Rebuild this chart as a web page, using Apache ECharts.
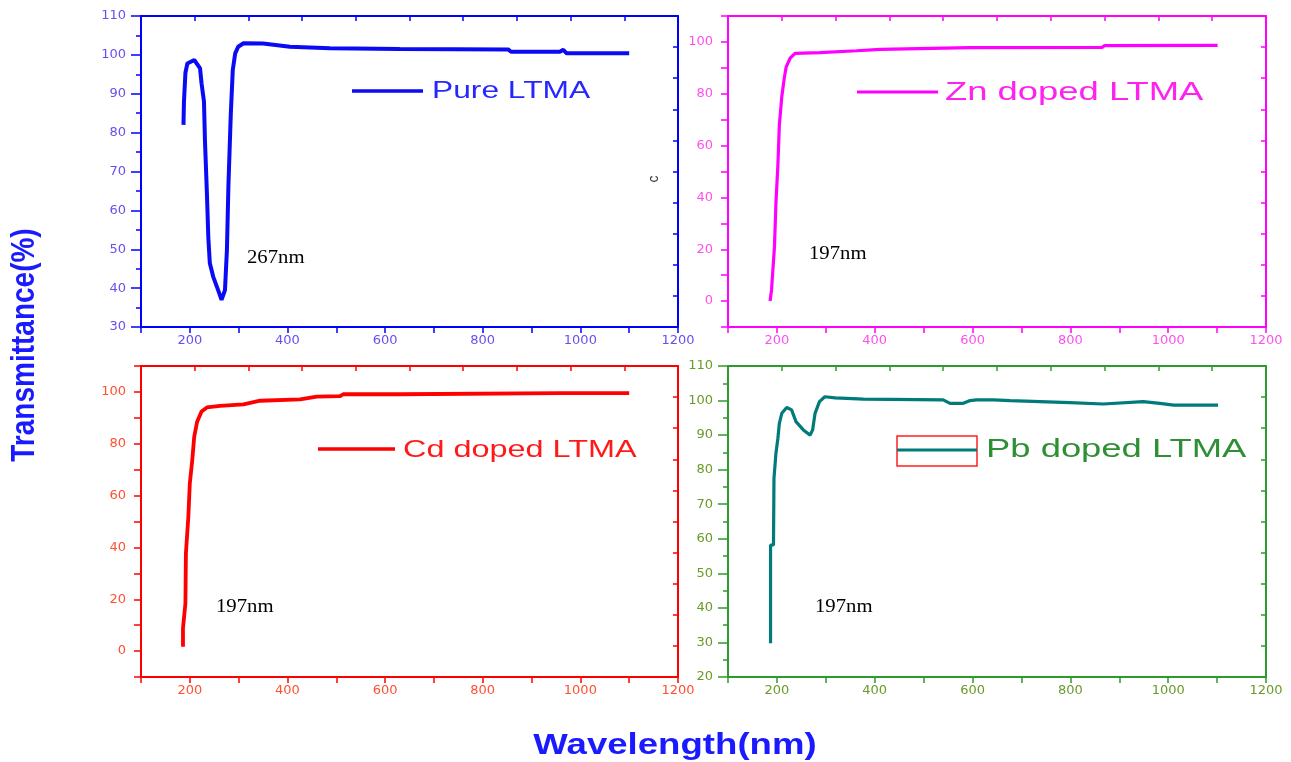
<!DOCTYPE html>
<html>
<head>
<meta charset="utf-8">
<script src="https://cdn.jsdelivr.net/npm/echarts@6/dist/echarts.min.js"></script>
<style>
html,body{margin:0;padding:0;background:#fff;}
#chart{width:1291px;height:762px;}
</style>
</head>
<body>
<div id="chart"></div>
<script>
// ---- data ----
const pureX = [187,188,191,195,209,221,224,229,231,235,238,241,248,258,265,272,276,279,284,288,293,299,310,350,405,487,630,852,858,958,965,972,1100];
const pureY = [82,88,95.4,97.8,98.7,96.5,92.7,88,78,64.4,52.8,46.4,42.9,39.5,37,39.5,49.8,66,85,96.1,100.4,102.1,103,102.9,102.1,101.7,101.5,101.4,100.8,100.8,101.3,100.4,100.4];

const znX = [186,189,195,198,202,205,210,215,219,227,237,288,363,411,595,865,870,1101];
const znY = [0,4.3,21,37.7,52.5,68,78.9,86,90.4,93.7,95.6,95.9,96.6,97.1,97.8,97.9,98.6,98.7];

const cdX = [186,186,191,192,197,200,205,209,215,224,235,262,310,344,426,460,508,514,630,960,1100];
const cdY = [1.7,8.8,18.4,37.7,51.9,64.7,73.7,82.7,88.5,92.4,94,94.6,95.2,96.6,97.1,98.2,98.4,99.1,99.1,99.5,99.5];

const pbX = [187,187,193,194,198,202,205,210,220,230,239,254,268,273,278,287,298,319,377,540,554,574,581,595,608,643,677,799,867,949,983,1011,1102];
const pbY = [29.8,58.2,58.2,77.5,84.7,89.1,93.4,96.3,98,97.3,93.9,91.5,90,91.5,96.3,99.7,101.1,100.8,100.4,100.2,99.2,99.2,99.2,100,100.2,100.2,100,99.4,99,99.7,99.2,98.7,98.7];

const seriesNames = ['Pure LTMA','Zn doped LTMA','Cd doped LTMA','Pb doped LTMA'];
const peakLabels = ['267nm','197nm','197nm','197nm'];
const xTickValues = [200,400,600,800,1000,1200];
const yRanges = [[30,110],[-10,110],[-10,110],[20,110]];
const xTitle = 'Wavelength(nm)';
const yTitle = 'Transmittance(%)';

// ---- layout / style ----
const panels = [
  {xs:pureX, ys:pureY, grid:{left:141,top:16,width:537,height:311}, axis:'#0000ff', lab:'#6650f0', line:'#0a0af5', lw:4,   fine:true, legText:'#2626ff'},
  {xs:znX,   ys:znY,   grid:{left:728,top:16,width:538,height:311}, axis:'#ff00ff', lab:'#ff50ee', line:'#ff00ff', lw:3.2, fine:false, legText:'#ff22ee'},
  {xs:cdX,   ys:cdY,   grid:{left:141,top:366,width:537,height:311}, axis:'#ff0000', lab:'#ff5030', line:'#ff0000', lw:3.8, fine:false, legText:'#ff1a1a'},
  {xs:pbX,   ys:pbY,   grid:{left:728,top:366,width:538,height:311}, axis:'#2e9a2e', lab:'#6a9a2a', line:'#007a7a', lw:3.2, fine:true, legText:'#2f8f35'}
];

const grids = [], xAxes = [], yAxes = [], series = [];
const labelFont = {fontFamily:'"DejaVu Sans"', fontSize:13};
panels.forEach((p, i) => {
  grids.push(Object.assign({containLabel:false}, p.grid));
  xAxes.push({
    type:'value', gridIndex:i, min:100, max:1200, interval:100, position:'bottom',
    axisLine:{show:true, onZero:false, lineStyle:{color:p.axis, width:2}},
    axisTick:{show:true, length:6, lineStyle:{color:p.axis, width:1.5}},
    axisLabel:Object.assign({color:p.lab, margin:7, formatter:v => xTickValues.indexOf(v) >= 0 ? String(v) : ''}, labelFont),
    splitLine:{show:false}
  });
  xAxes.push({
    type:'value', gridIndex:i, min:0, max:10, interval:1, position:'top',
    axisLine:{show:true, onZero:false, lineStyle:{color:p.axis, width:2}},
    axisTick:{show:true, inside:true, length:5, lineStyle:{color:p.axis, width:1.5}},
    axisLabel:{show:false}, splitLine:{show:false}
  });
  const [ymin, ymax] = yRanges[i];
  const yl = {
    type:'value', gridIndex:i, min:ymin, max:ymax, interval:10, position:'left',
    axisLine:{show:true, onZero:false, lineStyle:{color:p.axis, width:2}},
    splitLine:{show:false}
  };
  if (p.fine) {
    yl.axisTick = {show:true, length:10, lineStyle:{color:p.axis, width:1.5}};
    yl.minorTick = {show:true, splitNumber:2, length:5, lineStyle:{color:p.axis, width:1.5}};
    yl.axisLabel = Object.assign({color:p.lab, margin:15, formatter:v => (v >= ymin && v <= ymax) ? String(v) : ''}, labelFont);
  } else {
    yl.axisTick = {show:true, length:7, lineStyle:{color:p.axis, width:1.5}};
    yl.axisLabel = Object.assign({color:p.lab, margin:15, formatter:v => (v >= 0 && v <= 100 && v % 20 === 0) ? String(v) : ''}, labelFont);
  }
  yAxes.push(yl);
  yAxes.push({
    type:'value', gridIndex:i, min:0, max:10, interval:1, position:'right',
    axisLine:{show:true, onZero:false, lineStyle:{color:p.axis, width:2}},
    axisTick:{show:true, inside:true, length:5, lineStyle:{color:p.axis, width:1.5}},
    axisLabel:{show:false}, splitLine:{show:false}
  });
  series.push({
    name:seriesNames[i], type:'line', xAxisIndex:2*i, yAxisIndex:2*i,
    symbol:'none', smooth:false, animation:false,
    lineStyle:{color:p.line, width:p.lw},
    data:p.xs.map((x, k) => [x, p.ys[k]])
  });
});

function txt(x, y, text, font, fill, opts) {
  return Object.assign({
    type:'text', x:x, y:y, silent:true,
    style:{text:text, font:font, fill:fill, align:'left', verticalAlign:'middle', textAlign:'left', textVerticalAlign:'middle'}
  }, opts || {});
}
function seg(x1, y1, x2, y2, color, w) {
  return {type:'line', silent:true, shape:{x1:x1, y1:y1, x2:x2, y2:y2}, style:{stroke:color, lineWidth:w}};
}

const graphics = [
  // legends
  seg(352, 91, 423, 91, panels[0].line, 3.5),
  txt(432, 92, seriesNames[0], '23px "Liberation Sans"', panels[0].legText, {scaleX:1.38}),
  seg(857, 92, 938, 92, panels[1].line, 3),
  txt(945, 93, seriesNames[1], '26px "Liberation Sans"', panels[1].legText, {scaleX:1.4}),
  seg(318, 449, 395, 449, panels[2].line, 3.5),
  txt(403, 450, seriesNames[2], '24px "Liberation Sans"', panels[2].legText, {scaleX:1.35}),
  {type:'rect', silent:true, shape:{x:897, y:436, width:80, height:30}, style:{fill:'none', stroke:'#ff2020', lineWidth:1.5}},
  seg(897, 450, 977, 450, panels[3].line, 3),
  txt(986, 450, seriesNames[3], '26px "Liberation Sans"', panels[3].legText, {scaleX:1.4}),
  // peak annotations
  txt(247, 258, peakLabels[0], '18px "Liberation Serif"', '#000', {scaleX:1.15}),
  txt(809, 254, peakLabels[1], '18px "Liberation Serif"', '#000', {scaleX:1.15}),
  txt(216, 607, peakLabels[2], '18px "Liberation Serif"', '#000', {scaleX:1.15}),
  txt(815, 607, peakLabels[3], '18px "Liberation Serif"', '#000', {scaleX:1.15}),
  // stray glyph
  {type:'text', x:654, y:179, rotation:Math.PI/2, silent:true,
   style:{text:'c', font:'14px "Liberation Sans"', fill:'#3a3020', align:'center', verticalAlign:'middle', textAlign:'center', textVerticalAlign:'middle'}},
  // axis titles
  {type:'text', x:25, y:345, rotation:Math.PI/2, scaleY:1.2, silent:true,
   style:{text:yTitle, font:'bold 28px "Liberation Sans"', fill:'#1a1aff', align:'center', verticalAlign:'middle', textAlign:'center', textVerticalAlign:'middle'}},
  {type:'text', x:675, y:746, scaleX:1.22, silent:true,
   style:{text:xTitle, font:'bold 30px "Liberation Sans"', fill:'#1a1aff', align:'center', verticalAlign:'middle', textAlign:'center', textVerticalAlign:'middle'}}
];

const chart = echarts.init(document.getElementById('chart'), null, {renderer:'canvas'});
chart.setOption({
  backgroundColor:'#ffffff',
  animation:false,
  grid:grids,
  xAxis:xAxes,
  yAxis:yAxes,
  series:series,
  graphic:graphics
});
</script>
</body>
</html>
